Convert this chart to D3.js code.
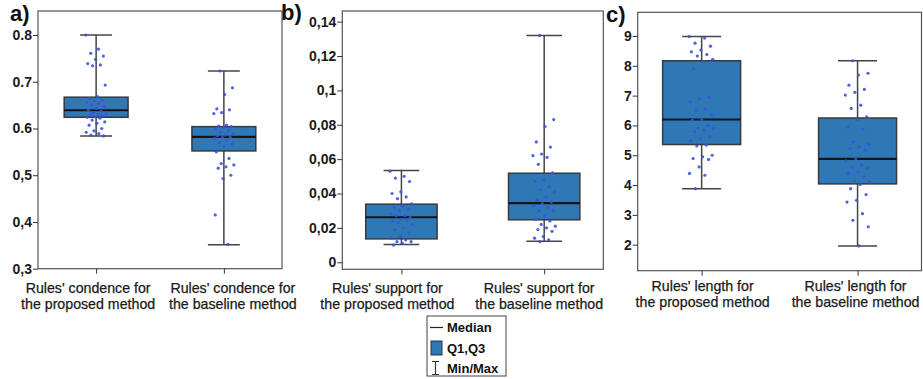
<!DOCTYPE html>
<html>
<head>
<meta charset="utf-8">
<script src="https://cdn.jsdelivr.net/npm/d3@7"></script>
<style>
  body { margin: 0; background: #fff; }
  svg { display: block; font-family: "Liberation Sans", Arial, sans-serif; }
</style>
</head>
<body>
<svg id="chart" width="923" height="379"></svg>
<script>
// categories (two-line labels)
const confidenceCategories = [["Rules' condence for", 'the proposed method'], ["Rules' condence for", 'the baseline method']]
const supportCategories = [["Rules' support for", 'the proposed method'], ["Rules' support for", 'the baseline method']]
const lengthCategories = [["Rules' length for", 'the proposed method'], ["Rules' length for", 'the baseline method']]

// box stats: [min, q1, median, q3, max]
const confidenceBoxes = [[0.584, 0.624, 0.639, 0.667, 0.800], [0.351, 0.552, 0.582, 0.604, 0.723]]
const supportBoxes = [[0.0103, 0.0136, 0.0262, 0.0338, 0.0534], [0.0122, 0.0247, 0.0344, 0.0518, 0.132]]
const lengthBoxes = [[3.88, 5.36, 6.20, 8.17, 8.98], [1.96, 4.04, 4.88, 6.25, 8.17]]

// individual observations
const confidenceProposed = [0.800, 0.770, 0.761, 0.755, 0.748, 0.739, 0.736, 0.734, 0.693, 0.668, 0.664, 0.661, 0.659, 0.656, 0.654, 0.650, 0.647, 0.643, 0.639, 0.637, 0.634, 0.632, 0.630, 0.629, 0.627, 0.625, 0.624, 0.622, 0.618, 0.614, 0.611, 0.607, 0.600, 0.595, 0.592, 0.589, 0.586, 0.584]
const confidenceBaseline = [0.723, 0.687, 0.673, 0.642, 0.640, 0.634, 0.632, 0.607, 0.605, 0.604, 0.602, 0.599, 0.596, 0.592, 0.589, 0.586, 0.584, 0.582, 0.581, 0.579, 0.575, 0.570, 0.567, 0.561, 0.550, 0.536, 0.525, 0.522, 0.518, 0.515, 0.500, 0.493, 0.415, 0.352]
const supportProposed = [0.053, 0.050, 0.049, 0.047, 0.041, 0.040, 0.038, 0.037, 0.034, 0.033, 0.032, 0.031, 0.030, 0.028, 0.027, 0.027, 0.026, 0.025, 0.024, 0.024, 0.023, 0.022, 0.020, 0.019, 0.017, 0.015, 0.014, 0.013, 0.012, 0.012, 0.011, 0.010]
const supportBaseline = [0.132, 0.083, 0.079, 0.070, 0.067, 0.063, 0.062, 0.061, 0.057, 0.052, 0.048, 0.047, 0.044, 0.042, 0.041, 0.038, 0.036, 0.035, 0.034, 0.033, 0.032, 0.030, 0.030, 0.027, 0.025, 0.024, 0.022, 0.021, 0.020, 0.019, 0.018, 0.015, 0.014, 0.013, 0.012]
const lengthProposed = [8.98, 8.93, 8.76, 8.66, 8.53, 8.47, 8.38, 8.33, 8.22, 8.14, 7.91, 6.94, 6.90, 6.79, 6.56, 6.51, 6.35, 6.20, 6.18, 6.00, 5.92, 5.89, 5.84, 5.79, 5.62, 5.56, 5.48, 5.34, 5.31, 5.00, 4.95, 4.89, 4.86, 4.61, 4.39, 4.33, 3.88]
const lengthBaseline = [8.17, 7.75, 7.69, 7.35, 7.21, 7.11, 7.02, 6.68, 6.57, 6.29, 6.20, 5.95, 5.86, 5.45, 5.37, 5.28, 5.23, 5.17, 4.89, 4.81, 4.67, 4.61, 4.56, 4.44, 4.39, 4.27, 4.16, 4.11, 4.02, 3.88, 3.68, 3.49, 3.43, 3.04, 2.82, 2.60, 1.96]

// tick values and labels
const confidenceTicks = [0.3, 0.4, 0.5, 0.6, 0.7, 0.8]
const confidenceTickLabels = ['0,3', '0,4', '0,5', '0.6', '0.7', '0.8']
const supportTicks = [0, 0.02, 0.04, 0.06, 0.08, 0.1, 0.12, 0.14]
const supportTickLabels = ['0', '0,02', '0,04', '0,06', '0,08', '0,1', '0,12', '0,14']
const lengthTicks = [2, 3, 4, 5, 6, 7, 8, 9]
const lengthTickLabels = ['2', '3', '4', '5', '6', '7', '8', '9']

const legendLabels = ['Median', 'Q1,Q3', 'Min/Max']

const theme = {
  box: '#2e78b6',
  boxStroke: '#3a3a3a',
  median: '#141414',
  whisker: '#444',
  dot: '#3a52dc',
  frame: '#555',
  text: '#1a1a1a'
}

// labelShift: horizontal offset of each category label from its tick
const panels = [
  { letter: 'a)', lx: 10, ly: 21, left: 38, right: 282, top: 11, bottom: 268.7, domain: [0.3, 0.8514], pad: 0.455,
    cats: confidenceCategories, boxes: confidenceBoxes, points: [confidenceProposed, confidenceBaseline],
    ticks: confidenceTicks, tickLabels: confidenceTickLabels, labelY: 293, labelShift: [-8, 9] },
  { letter: 'b)', lx: 281, ly: 20, left: 342.3, right: 603.3, top: 11, bottom: 269.3, domain: [-0.0041, 0.1462], pad: 0.414,
    cats: supportCategories, boxes: supportBoxes, points: [supportProposed, supportBaseline],
    ticks: supportTicks, tickLabels: supportTickLabels, labelY: 293, labelShift: [-14, -5] },
  { letter: 'c)', lx: 606, ly: 22, left: 637.7, right: 921.5, top: 12.3, bottom: 270.7, domain: [1.128, 9.795], pad: 0.41,
    cats: lengthCategories, boxes: lengthBoxes, points: [lengthProposed, lengthBaseline],
    ticks: lengthTicks, tickLabels: lengthTickLabels, labelY: 291, labelShift: [1, -2] }
]

const svg = d3.select('#chart')

panels.forEach(p => {
  const g = svg.append('g')
  const x = d3.scalePoint().domain(d3.range(p.cats.length)).range([p.left, p.right]).padding(p.pad)
  const y = d3.scaleLinear().domain(p.domain).range([p.bottom, p.top])
  const step = x.step()
  const bw = step * 0.5
  const cw = step * 0.25
  const spread = step * 0.08

  // frame
  g.append('rect')
    .attr('x', p.left).attr('y', p.top)
    .attr('width', p.right - p.left).attr('height', p.bottom - p.top)
    .attr('fill', 'none').attr('stroke', theme.frame).attr('stroke-width', 1.2)

  // y axis
  const yAxis = d3.axisLeft(y).tickValues(p.ticks).tickSize(5).tickPadding(1)
    .tickFormat((d, i) => p.tickLabels[i])
  const ya = g.append('g').attr('transform', `translate(${p.left},0)`).call(yAxis)
  ya.select('.domain').remove()
  ya.selectAll('line').attr('stroke', '#333')
  ya.selectAll('text').attr('fill', theme.text).style('font-size', '14px').style('font-weight', 'bold')
    .style('font-family', '"Liberation Sans", Arial, sans-serif')

  // x axis
  const xAxis = d3.axisBottom(x).tickSize(5).tickFormat('')
  const xa = g.append('g').attr('transform', `translate(0,${p.bottom})`).call(xAxis)
  xa.select('.domain').remove()
  xa.selectAll('line').attr('stroke', '#333')

  // category labels
  p.cats.forEach((lines, i) => {
    const cx = x(i) + p.labelShift[i]
    const t = g.append('text')
      .attr('x', cx).attr('y', p.labelY)
      .attr('text-anchor', 'middle')
      .attr('fill', theme.text)
      .attr('stroke', theme.text).attr('stroke-width', 0.25)
      .style('font-size', '14.2px')
    lines.forEach((ln, j) => {
      t.append('tspan').attr('x', cx).attr('dy', j === 0 ? 0 : 16).text(ln)
    })
  })

  // boxes
  p.boxes.forEach((b, i) => {
    const cx = x(i)
    const [mn, q1, md, q3, mx] = b
    g.append('line').attr('x1', cx).attr('x2', cx).attr('y1', y(mn)).attr('y2', y(mx))
      .attr('stroke', theme.whisker).attr('stroke-width', 1.5)
    g.append('line').attr('x1', cx - cw / 2).attr('x2', cx + cw / 2).attr('y1', y(mx)).attr('y2', y(mx))
      .attr('stroke', theme.whisker).attr('stroke-width', 1.5)
    g.append('line').attr('x1', cx - cw / 2).attr('x2', cx + cw / 2).attr('y1', y(mn)).attr('y2', y(mn))
      .attr('stroke', theme.whisker).attr('stroke-width', 1.5)
    g.append('rect')
      .attr('x', cx - bw / 2).attr('y', y(q3))
      .attr('width', bw).attr('height', y(q1) - y(q3))
      .attr('fill', theme.box).attr('stroke', theme.boxStroke).attr('stroke-width', 1.5)
    g.append('line').attr('x1', cx - bw / 2).attr('x2', cx + bw / 2).attr('y1', y(md)).attr('y2', y(md))
      .attr('stroke', theme.median).attr('stroke-width', 2.2)
  })

  // jittered observations (deterministic offsets)
  p.points.forEach((vals, i) => {
    g.append('g').selectAll('circle')
      .data(vals)
      .join('circle')
      .attr('cx', (d, k) => x(i) + spread * (((k * 0.618034 + i * 0.3) % 1) * 2 - 1))
      .attr('cy', d => y(d))
      .attr('r', 1.6)
      .attr('fill', theme.dot)
      .attr('opacity', 0.9)
  })

  // panel letter
  svg.append('text')
    .attr('x', p.lx).attr('y', p.ly)
    .attr('fill', '#111')
    .style('font-size', '22px').style('font-weight', 'bold')
    .text(p.letter)
})

// legend
const lg = svg.append('g')
lg.append('rect').attr('x', 427).attr('y', 316).attr('width', 79).attr('height', 60)
  .attr('fill', '#fff').attr('stroke', '#444').attr('stroke-width', 1)
const rowY = d3.scalePoint().domain(legendLabels).range([327.5, 368.5])
lg.append('line').attr('x1', 430).attr('x2', 443).attr('y1', rowY('Median')).attr('y2', rowY('Median'))
  .attr('stroke', '#222').attr('stroke-width', 1.2)
lg.append('rect').attr('x', 431).attr('y', rowY('Q1,Q3') - 7).attr('width', 11).attr('height', 14)
  .attr('fill', theme.box).attr('stroke', '#333').attr('stroke-width', 1)
const my = rowY('Min/Max')
lg.append('path')
  .attr('d', `M432,${my - 7}H439M435.5,${my - 7}V${my + 6}M432,${my + 6}H439`)
  .attr('fill', 'none').attr('stroke', '#333').attr('stroke-width', 1.1)
lg.selectAll('text.leg')
  .data(legendLabels)
  .join('text')
  .attr('class', 'leg')
  .attr('x', 447)
  .attr('y', d => rowY(d) + 4.8)
  .attr('fill', '#111')
  .style('font-size', '13px').style('font-weight', 'bold')
  .text(d => d)
</script>
</body>
</html>
